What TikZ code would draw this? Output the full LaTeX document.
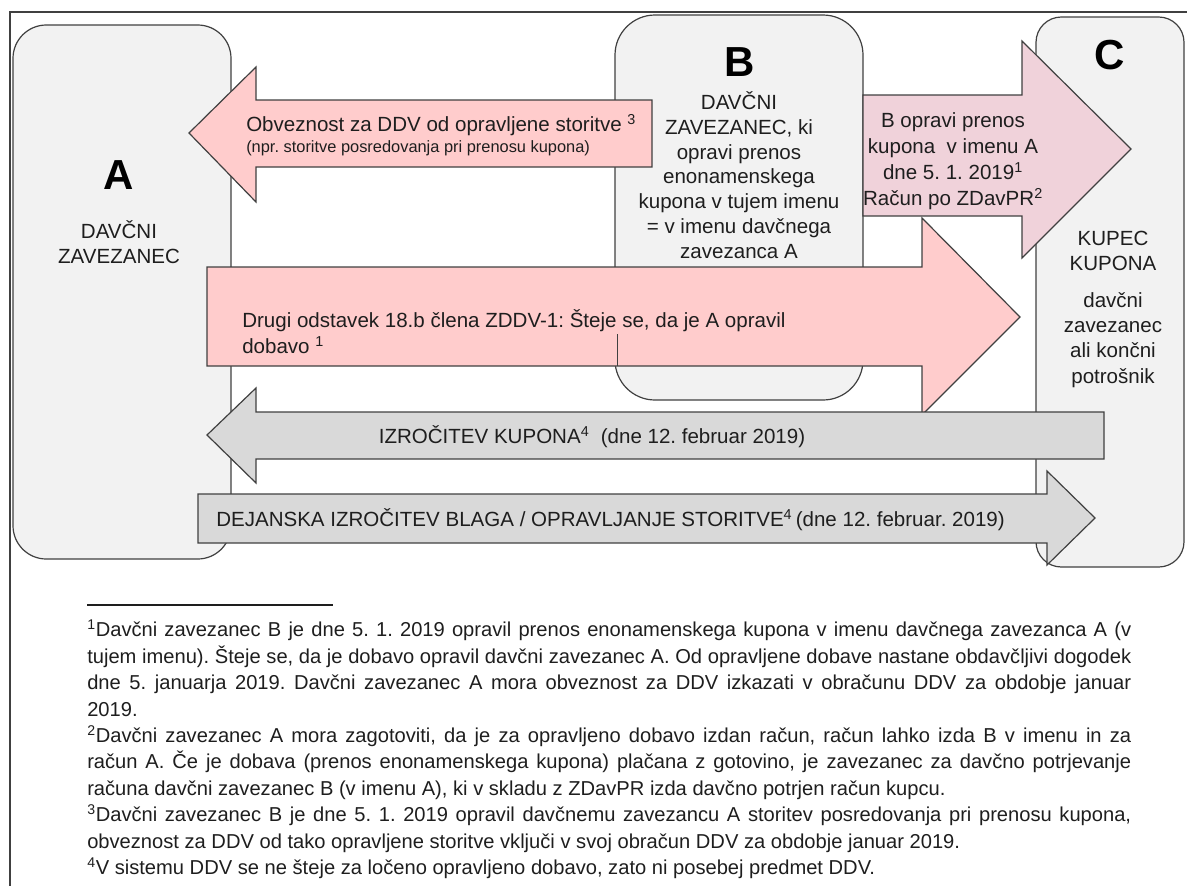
\documentclass[tikz,border=0pt]{standalone}
\usepackage{fontspec}
\setmainfont{Liberation Sans}
\frenchspacing
\definecolor{boxgray}{RGB}{242,242,242}
\definecolor{arrowpink}{RGB}{255,204,204}
\definecolor{arrowmauve}{RGB}{240,210,218}
\definecolor{arrowgray}{RGB}{217,217,217}
\definecolor{edgegray}{RGB}{64,64,64}
\definecolor{textgray}{RGB}{30,30,30}
\newcommand{\fnline}[1]{\makebox[783pt][s]{#1}}

\begin{document}
\begin{tikzpicture}[x=0.75pt,y=0.75pt,yscale=-1,xscale=1,
  partybox/.style={draw=edgegray,fill=boxgray,line width=0.9pt},
  pinkarrow/.style={draw=edgegray,fill=arrowpink,line width=0.9pt},
  mauvearrow/.style={draw=edgegray,fill=arrowmauve,line width=0.9pt},
  grayarrow/.style={draw=edgegray,fill=arrowgray,line width=0.9pt},
  lbl/.style={inner sep=0.75pt,align=center,text=textgray,font=\fontsize{15.4}{18.6}\selectfont},
  biglbl/.style={inner sep=0.75pt,text=black,font=\fontsize{31.5}{36}\selectfont\bfseries},
  fntext/.style={inner sep=0pt,align=left,text=textgray,font=\fontsize{15.1}{19.8}\selectfont}]
\useasboundingbox (0,0) rectangle (1187,886);

%Shape: Frame
\draw [edgegray,line width=0.9pt] (1187,12) -- (10,12) -- (10,886) ;

%Shape: Rounded Rect A
\draw [partybox,rounded corners=25pt] (13,25) rectangle (231,559) ;
%Shape: Rounded Rect B
\draw [partybox,rounded corners=30pt] (615,15) rectangle (863,400) ;
%Shape: Rounded Rect C
\draw [partybox,rounded corners=19pt] (1036,17) rectangle (1184,567) ;

%Shape: Left Arrow (obveznost)
\draw [pinkarrow] (189,133) -- (256,67) -- (256,100) -- (652,100) -- (652,167) -- (256,167) -- (256,202) -- cycle ;
%Shape: Right Arrow (B to C)
\draw [mauvearrow] (863,95) -- (1022,95) -- (1022,41) -- (1131,149) -- (1022,258) -- (1022,216) -- (863,216) -- cycle ;
%Shape: Right Arrow (dobava)
\draw [pinkarrow] (207,267) -- (922,267) -- (922,218) -- (1020,317) -- (922,415) -- (922,366) -- (207,366) -- cycle ;
%Straight Lines
\draw [edgegray,line width=0.6pt] (617,334) -- (617,366) ;
%Shape: Left Arrow (kupon)
\draw [grayarrow] (207,435) -- (256,388) -- (256,412) -- (1104,412) -- (1104,459) -- (256,459) -- (256,483) -- cycle ;
%Shape: Right Arrow (blago)
\draw [grayarrow] (198,494) -- (1047,494) -- (1047,471) -- (1095,518) -- (1047,565) -- (1047,543) -- (198,543) -- cycle ;

% Text Node
\node [biglbl] (letterA) at (119,175) {A};
% Text Node
\node [lbl,font=\fontsize{15.4}{18.75}\selectfont] (partyA) at (119,242) {DAVČNI\\ZAVEZANEC};
% Text Node
\node [biglbl] (letterB) at (740,62) {B};
% Text Node
\node [lbl] (partyB) at (739,175) {DAVČNI\\ZAVEZANEC, ki\\opravi prenos\\enonamenskega\\kupona v tujem imenu\\= v imenu davčnega\\zavezanca A};
% Text Node
\node [biglbl] (letterC) at (1110,55) {C};
% Text Node
\node [lbl,font=\fontsize{15.4}{18.75}\selectfont] (partyC) at (1113,251) {KUPEC\\KUPONA};
% Text Node
\node [lbl,font=\fontsize{15.4}{18.9}\selectfont] (kindC) at (1113,340) {davčni\\zavezanec\\ali končni\\potrošnik};
% Text Node
\node [lbl,anchor=west] (dutyA) at (245,125) {Obveznost za DDV od opravljene storitve \textsuperscript{3}};
% Text Node
\node [lbl,anchor=west,font=\fontsize{12.3}{14}\selectfont] (dutyNote) at (245,148) {(npr. storitve posredovanja pri prenosu kupona)};
% Text Node
\node [lbl,font=\fontsize{15.4}{19.5}\selectfont] (transferB) at (953,161) {B opravi prenos\\kupona\ \ v imenu A\\dne 5. 1. 2019\textsuperscript{1}\\Račun po ZDavPR\textsuperscript{2}};
% Text Node
\node [lbl,anchor=west,align=left,font=\fontsize{15.4}{19.5}\selectfont] (supplyA) at (241,332) {Drugi odstavek 18.b člena ZDDV-1: Šteje se, da je A opravil\\dobavo \textsuperscript{1}};
% Text Node
\node [lbl] (handover) at (592,437) {IZROČITEV KUPONA\textsuperscript{4}\ \ (dne 12. februar 2019)};
% Text Node
\node [lbl,anchor=west] (delivery) at (215,520) {DEJANSKA IZROČITEV BLAGA / OPRAVLJANJE STORITVE\textsuperscript{4}\,(dne 12. februar. 2019)};

%Straight Lines
\draw [textgray,line width=0.8pt] (87,605) -- (333,605) ;
% Text Node
\node [fntext,anchor=north west] (notes) at (87,620) {%
\fnline{\textsuperscript{1}Davčni zavezanec B je dne 5. 1. 2019 opravil prenos enonamenskega kupona v imenu davčnega zavezanca A (v}\\
\fnline{tujem imenu). Šteje se, da je dobavo opravil davčni zavezanec A. Od opravljene dobave nastane obdavčljivi dogodek}\\
\fnline{dne 5. januarja 2019. Davčni zavezanec A mora obveznost za DDV izkazati v obračunu DDV za obdobje januar}\\
2019.\\
\fnline{\textsuperscript{2}Davčni zavezanec A mora zagotoviti, da je za opravljeno dobavo izdan račun, račun lahko izda B v imenu in za}\\
\fnline{račun A. Če je dobava (prenos enonamenskega kupona) plačana z gotovino, je zavezanec za davčno potrjevanje}\\
računa davčni zavezanec B (v imenu A), ki v skladu z ZDavPR izda davčno potrjen račun kupcu.\\
\fnline{\textsuperscript{3}Davčni zavezanec B je dne 5. 1. 2019 opravil davčnemu zavezancu A storitev posredovanja pri prenosu kupona,}\\
obveznost za DDV od tako opravljene storitve vključi v svoj obračun DDV za obdobje januar 2019.\\
\textsuperscript{4}V sistemu DDV se ne šteje za ločeno opravljeno dobavo, zato ni posebej predmet DDV.};

\end{tikzpicture}
\end{document}
